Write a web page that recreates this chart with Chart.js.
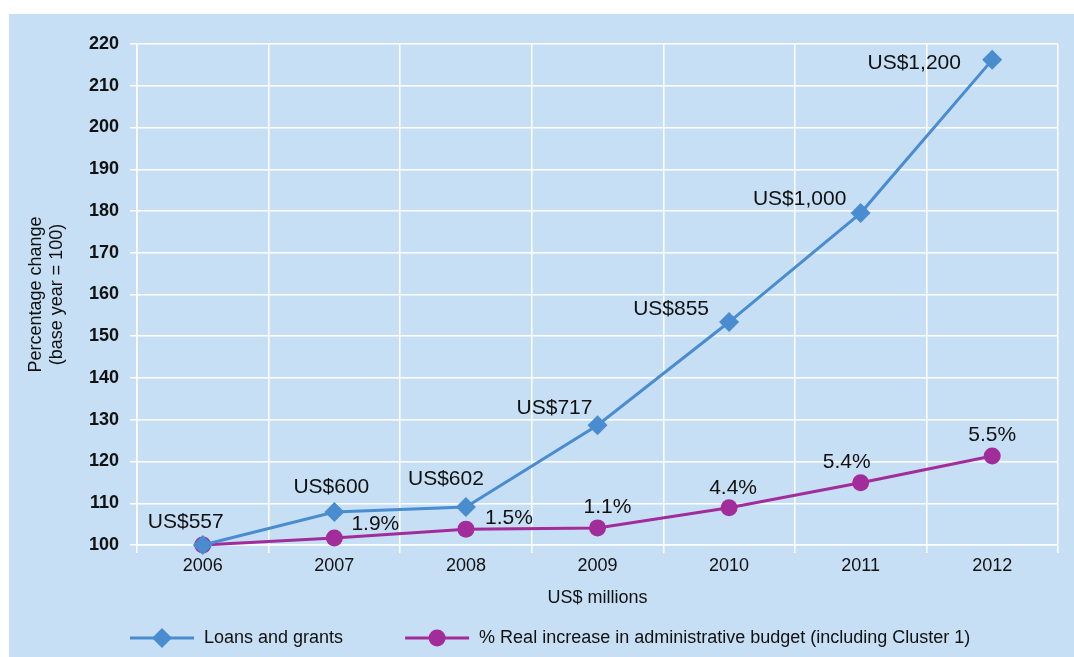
<!DOCTYPE html>
<html>
<head>
<meta charset="utf-8">
<script src="https://cdn.jsdelivr.net/npm/chart.js@4.4.1/dist/chart.umd.min.js"></script>
<style>
  html, body { margin: 0; padding: 0; background: #fff; }
  #box {
    position: absolute; left: 9px; top: 14px;
    width: 1065px; height: 643px;
    background: rgb(198, 223, 244);
  }
</style>
</head>
<body>
<div id="box"><canvas id="chart" width="1065" height="643"></canvas></div>
<script>
// chart data
const years = ['2006', '2007', '2008', '2009', '2010', '2011', '2012'];
const loansIndex = [100, 107.9, 109.1, 128.7, 153.4, 179.5, 216.2];
const budgetIndex = [100, 101.7, 103.8, 104.1, 108.9, 114.9, 121.3];
const loansLabels = ['US$557', 'US$600', 'US$602', 'US$717', 'US$855', 'US$1,000', 'US$1,200'];
const budgetLabels = ['', '1.9%', '1.5%', '1.1%', '4.4%', '5.4%', '5.5%'];
const yTicks = { min: 100, max: 220, step: 10 };

// where each label sits relative to its point (px)
const loansOffsets = [[-17, -23], [-3, -25], [-20, -28], [-43, -17], [-58, -13], [-61, -14], [-78, 3]];
const budgetOffsets = [[0, 0], [41, -14], [43, -11], [10, -21], [4, -20], [-14, -21], [0, -21]];

const BLUE = 'rgb(74, 140, 208)';
const MAGENTA = 'rgb(162, 44, 154)';
const FONT = '"Liberation Sans", Arial, Helvetica, sans-serif';

// text next to the points
const pointLabels = {
  id: 'pointLabels',
  afterDatasetsDraw(chart) {
    const ctx = chart.ctx;
    ctx.save();
    ctx.font = '21px ' + FONT;
    ctx.fillStyle = '#111';
    ctx.textAlign = 'center';
    ctx.textBaseline = 'middle';
    chart.data.datasets.forEach((ds, i) => {
      const meta = chart.getDatasetMeta(i);
      meta.data.forEach((pt, j) => {
        const txt = ds.valueLabels[j];
        if (!txt) return;
        const off = ds.labelOffsets[j];
        ctx.fillText(txt, pt.x + off[0], pt.y + off[1]);
      });
    });
    ctx.restore();
  }
};

// legend with line + marker
const lineLegend = {
  id: 'lineLegend',
  afterDraw(chart) {
    const ctx = chart.ctx;
    const y = 624;
    let x = 121;
    ctx.save();
    ctx.font = '18px ' + FONT;
    ctx.textBaseline = 'middle';
    chart.data.datasets.forEach((ds) => {
      ctx.strokeStyle = ds.borderColor;
      ctx.lineWidth = 3;
      ctx.beginPath();
      ctx.moveTo(x, y);
      ctx.lineTo(x + 64, y);
      ctx.stroke();
      ctx.fillStyle = ds.borderColor;
      ctx.beginPath();
      const r = ds.pointRadius;
      if (ds.pointStyle === 'circle') {
        ctx.arc(x + 32, y, r, 0, Math.PI * 2);
      } else {
        ctx.moveTo(x + 32, y - r); ctx.lineTo(x + 32 + r, y);
        ctx.lineTo(x + 32, y + r); ctx.lineTo(x + 32 - r, y);
        ctx.closePath();
      }
      ctx.fill();
      ctx.fillStyle = '#111';
      ctx.fillText(ds.label, x + 74, y);
      x += 74 + ctx.measureText(ds.label).width + 62;
    });
    ctx.restore();
  }
};

new Chart(document.getElementById('chart'), {
  type: 'line',
  data: {
    labels: years,
    datasets: [
      {
        label: 'Loans and grants',
        data: loansIndex,
        valueLabels: loansLabels,
        labelOffsets: loansOffsets,
        borderColor: BLUE,
        backgroundColor: BLUE,
        borderWidth: 3,
        pointStyle: 'rectRot',
        pointRadius: 10,
        pointBorderWidth: 0,
        tension: 0,
        clip: false
      },
      {
        label: '% Real increase in administrative budget (including Cluster 1)',
        data: budgetIndex,
        valueLabels: budgetLabels,
        labelOffsets: budgetOffsets,
        borderColor: MAGENTA,
        backgroundColor: MAGENTA,
        borderWidth: 3,
        pointStyle: 'circle',
        pointRadius: 8.5,
        pointBorderWidth: 0,
        tension: 0,
        clip: false
      }
    ]
  },
  options: {
    responsive: false,
    animation: false,
    layout: { padding: { top: 30, right: 16, bottom: 42, left: 0 } },
    plugins: {
      legend: { display: false },
      tooltip: { enabled: false }
    },
    scales: {
      x: {
        offset: true,
        afterFit(scale) { scale.height = 70; },
        grid: { offset: true, color: '#fff', lineWidth: 1.5, tickLength: 8, tickColor: '#fff' },
        border: { color: '#fff', width: 1.5 },
        ticks: { color: '#111', padding: 2, font: { family: FONT, size: 18 } },
        title: {
          display: true, text: 'US$ millions', color: '#111',
          padding: { top: 0, bottom: 6 },
          font: { family: FONT, size: 18 }
        }
      },
      y: {
        min: yTicks.min,
        max: yTicks.max,
        afterFit(scale) { scale.width = 128; },
        grid: { color: '#fff', lineWidth: 1.5, tickLength: 7, tickColor: '#fff' },
        border: { color: '#fff', width: 1.5 },
        ticks: {
          stepSize: yTicks.step, color: '#111', padding: 11,
          font: { family: FONT, size: 18, weight: 'bold' }
        },
        title: {
          display: true, text: ['Percentage change', '(base year = 100)'], color: '#111',
          padding: { top: 16, bottom: 0 },
          font: { family: FONT, size: 18 },
          // tighter lines, as in the source
          lineHeight: 1.05
        }
      }
    }
  },
  plugins: [pointLabels, lineLegend]
});
</script>
</body>
</html>
